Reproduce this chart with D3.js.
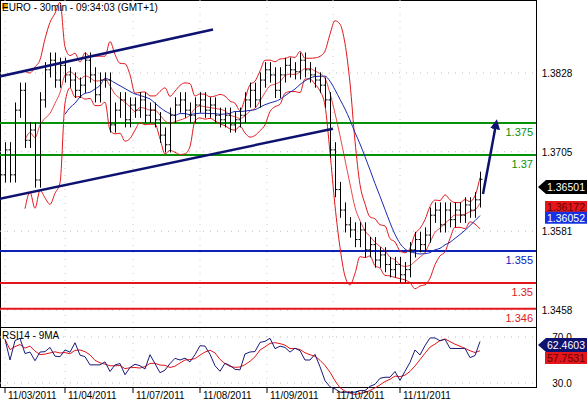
<!DOCTYPE html>
<html>
<head>
<meta charset="utf-8">
<script src="https://cdn.jsdelivr.net/npm/d3@7"></script>
<style>
  body { margin: 0; background: #fff; }
  text { font-family: "Liberation Sans", Arial, sans-serif; }
</style>
</head>
<body>
<div id="chart"></div>
<script>
// close prices, one bar every ~5px
var closes = [
  1.3669, 1.3708, 1.3669, 1.3770, 1.3801, 1.3723, 1.3739, 1.3661, 1.3786, 1.3833,
  1.3848, 1.3817, 1.3840, 1.3825, 1.3817, 1.3801, 1.3809, 1.3848, 1.3825, 1.3794,
  1.3817, 1.3817, 1.3747, 1.3770, 1.3786, 1.3755, 1.3778, 1.3770, 1.3786, 1.3762,
  1.3770, 1.3755, 1.3731, 1.3716, 1.3762, 1.3778, 1.3786, 1.3770, 1.3762, 1.3778,
  1.3786, 1.3770, 1.3778, 1.3762, 1.3755, 1.3762, 1.3747, 1.3755, 1.3762, 1.3786, 1.3801, 1.3786,
  1.3817, 1.3833, 1.3825, 1.3801, 1.3825, 1.3840, 1.3833, 1.3830, 1.3848, 1.3833,
  1.3825, 1.3817, 1.3809, 1.3786, 1.3708, 1.3646, 1.3614, 1.3591, 1.3583, 1.3568,
  1.3583, 1.3552, 1.3560, 1.3536, 1.3544, 1.3529, 1.3521, 1.3529, 1.3513, 1.3521,
  1.3552, 1.3568, 1.3560, 1.3575, 1.3606, 1.3614, 1.3591, 1.3614, 1.3599, 1.3614,
  1.3606, 1.3622, 1.3614, 1.3630, 1.3662
];
var dateLabels = ["11/03/2011", "11/04/2011", "11/07/2011", "11/08/2011", "11/09/2011", "11/10/2011", "11/11/2011"];
var dateBars = [1, 13, 26.6, 40, 53.4, 66.6, 80];
var priceTicks = [1.3828, 1.3705, 1.3581, 1.3458];
var levels = [1.375, 1.37, 1.355, 1.35, 1.346];
var levelLabels = ["1.375", "1.37", "1.355", "1.35", "1.346"];
var levelColors = ["#079107", "#079107", "#0b22b8", "#e3161b", "#e3161b"];
var rsiTicks = [70, 30];
var trendUpper = [[-1, 1.3821], [42.6, 1.3896]];
var trendLower = [[-1, 1.3630], [66.6, 1.3741]];
var arrowPts = [[96.6, 1.3639], [99.2, 1.3748]];

var W = 587, H = 400, plotR = 536;
var svg = d3.select('#chart').append('svg').attr('width', W).attr('height', H);

var x = d3.scaleLinear().domain([0, 1]).range([0, 5]);
var y = d3.scaleLinear().domain([1.3828, 1.3458]).range([73, 310]);
var yr = d3.scaleLinear().domain([70, 30]).range([337, 383]);

// derived indicators
function sma(a, n) { return a.map(function(v, i) { return i < n - 1 ? null : d3.mean(a.slice(i - n + 1, i + 1)); }); }
var bbN = 6;
var mid = sma(closes, bbN);
var bb = closes.map(function(v, i) {
  if (i < bbN - 1) return null;
  var s = d3.deviation(closes.slice(i - bbN + 1, i + 1));
  return { m: mid[i], u: mid[i] + 2 * s, l: mid[i] - 2 * s };
});
var ma = sma(closes, 14);
var rsiN = 8, rsi = [];
closes.forEach(function(c, i) {
  if (i < 1) { rsi.push(null); return; }
  var g = 0, l = 0;
  for (var k = Math.max(1, i - rsiN + 1); k <= i; k++) { var d = closes[k] - closes[k - 1]; if (d > 0) g += d; else l -= d; }
  var r = l === 0 ? 80 : 100 - 100 / (1 + g / l);
  rsi.push(50 + (r - 50) * 0.6);
});
var rsiMa = rsi.map(function(v, i) { var s = rsi.slice(Math.max(0, i - 3), i + 1).filter(function(d) { return d != null; }); return v == null ? null : d3.mean(s); });

// frames
svg.append('rect').attr('x', 0.5).attr('y', 0.5).attr('width', plotR).attr('height', 387).attr('fill', 'none').attr('stroke', '#000');
svg.append('line').attr('x1', 0).attr('x2', plotR).attr('y1', 327.5).attr('y2', 327.5).attr('stroke', '#000');

// grid
svg.selectAll('.hg').data(priceTicks).enter().append('line')
  .attr('x1', 0).attr('x2', plotR).attr('y1', y).attr('y2', y)
  .attr('stroke', '#bbb').attr('stroke-dasharray', '1,6');
svg.selectAll('.rg').data(rsiTicks).enter().append('line')
  .attr('x1', 0).attr('x2', plotR).attr('y1', yr).attr('y2', yr)
  .attr('stroke', '#bbb').attr('stroke-dasharray', '1,6');
svg.selectAll('.vg').data(dateBars).enter().append('line')
  .attr('x1', function(d) { return x(d); }).attr('x2', function(d) { return x(d); })
  .attr('y1', 0).attr('y2', 387).attr('stroke', '#ccc').attr('stroke-dasharray', '1,6');

// level lines
levels.forEach(function(v, i) {
  svg.append('line').attr('x1', 0).attr('x2', plotR).attr('y1', y(v)).attr('y2', y(v))
    .attr('stroke', levelColors[i]).attr('stroke-width', 2);
  svg.append('text').attr('x', 533).attr('y', y(v) + 13).attr('text-anchor', 'end')
    .attr('font-size', 11).attr('fill', levelColors[i]).text(levelLabels[i]);
});

// bollinger + ma
function ln(acc, scale) {
  return d3.line().defined(function(d) { return d != null; })
    .x(function(d, i) { return x(i); }).y(function(d) { return scale(acc(d)); }).curve(d3.curveMonotoneX);
}
svg.append('path').datum(bb).attr('d', ln(function(d) { return d.u; }, y)).attr('fill', 'none').attr('stroke', '#e3161b');
svg.append('path').datum(bb).attr('d', ln(function(d) { return d.l; }, y)).attr('fill', 'none').attr('stroke', '#e3161b');
svg.append('path').datum(bb).attr('d', ln(function(d) { return d.m; }, y)).attr('fill', 'none').attr('stroke', '#e3161b').attr('stroke-width', 0.8);
svg.append('path').datum(ma).attr('d', ln(function(d) { return d; }, y)).attr('fill', 'none').attr('stroke', '#1a2bb0');

// OHLC bars
var g = svg.append('g').attr('stroke', '#000');
closes.forEach(function(c, i) {
  var o = i ? closes[i - 1] : c;
  var hi = Math.max(o, c) + 0.0012, lo = Math.min(o, c) - 0.0012;
  var cx = x(i) + 0.5;
  g.append('line').attr('x1', cx).attr('x2', cx).attr('y1', y(hi)).attr('y2', y(lo));
  g.append('line').attr('x1', cx - 2).attr('x2', cx).attr('y1', y(o)).attr('y2', y(o));
  g.append('line').attr('x1', cx).attr('x2', cx + 2).attr('y1', y(c)).attr('y2', y(c));
});

// trend lines and arrow
[trendUpper, trendLower].forEach(function(t) {
  svg.append('line').attr('x1', x(t[0][0])).attr('y1', y(t[0][1])).attr('x2', x(t[1][0])).attr('y2', y(t[1][1]))
    .attr('stroke', '#0d1270').attr('stroke-width', 2.5);
});
svg.append('defs').append('marker').attr('id', 'ah').attr('viewBox', '0 0 10 10').attr('refX', 5).attr('refY', 5)
  .attr('markerWidth', 4).attr('markerHeight', 5).attr('orient', 'auto')
  .append('path').attr('d', 'M0,0L10,5L0,10z').attr('fill', '#0d1270');
svg.append('line').attr('x1', x(arrowPts[0][0])).attr('y1', y(arrowPts[0][1])).attr('x2', x(arrowPts[1][0])).attr('y2', y(arrowPts[1][1]))
  .attr('stroke', '#0d1270').attr('stroke-width', 2.5).attr('marker-end', 'url(#ah)');

// RSI
svg.append('path').datum(rsiMa).attr('d', d3.line().defined(function(d) { return d != null; }).x(function(d, i) { return x(i); }).y(function(d) { return yr(d); }))
  .attr('fill', 'none').attr('stroke', '#e3161b');
svg.append('path').datum(rsi).attr('d', d3.line().defined(function(d) { return d != null; }).x(function(d, i) { return x(i); }).y(function(d) { return yr(Math.max(22, Math.min(80, d))); }))
  .attr('fill', 'none').attr('stroke', '#1a1a7a');
svg.append('text').attr('x', 2).attr('y', 339).attr('font-size', 10).text('RSI14 - 9MA');

// right axis
svg.selectAll('.pt').data(priceTicks).enter().append('text')
  .attr('x', 557).attr('y', function(d) { return y(d) + 4; }).attr('text-anchor', 'middle').attr('font-size', 10)
  .text(function(d) { return d.toFixed(4); });
svg.selectAll('.rt').data(rsiTicks).enter().append('text')
  .attr('x', 562).attr('y', function(d) { return yr(d) + 4; }).attr('text-anchor', 'middle').attr('font-size', 10)
  .text(function(d) { return d.toFixed(1); });
function tag(val, yy, fill, txt, arrow) {
  var gg = svg.append('g');
  var p = arrow ? 'M538,' + yy + 'L546,' + (yy - 7) + 'L587,' + (yy - 7) + 'L587,' + (yy + 7) + 'L546,' + (yy + 7) + 'Z'
                : 'M545,' + (yy - 6) + 'L587,' + (yy - 6) + 'L587,' + (yy + 6) + 'L545,' + (yy + 6) + 'Z';
  gg.append('path').attr('d', p).attr('fill', fill);
  gg.append('text').attr('x', 566).attr('y', yy + 4).attr('text-anchor', 'middle').attr('font-size', 10.5).attr('fill', txt).text(val);
}
tag('1.36501', y(1.36501), '#000', '#fff', true);
tag('1.36172', y(1.36172) - 1, '#e3161b', '#6a0000', false);
tag('1.36052', y(1.36052) + 2, '#1432e0', '#fff', false);
tag('62.4603', 345, '#0d1270', '#fff', true);
tag('57.7531', 358, '#e3161b', '#6a0000', false);

// date axis
svg.selectAll('.dt').data(dateBars).enter().append('g').each(function(d, i) {
  var s = d3.select(this);
  s.append('line').attr('x1', x(d)).attr('x2', x(d)).attr('y1', 388).attr('y2', 393).attr('stroke', '#000');
  s.append('text').attr('x', x(d) + 3).attr('y', 399).attr('font-size', 10).text(dateLabels[i]);
});

// title
svg.append('rect').attr('x', 2).attr('y', 3).attr('width', 6).attr('height', 6).attr('fill', '#e8a000');
svg.append('text').attr('x', 2).attr('y', 11).attr('font-size', 10).text('EURO - 30min - 09:34:03 (GMT+1)');
</script>
</body>
</html>
